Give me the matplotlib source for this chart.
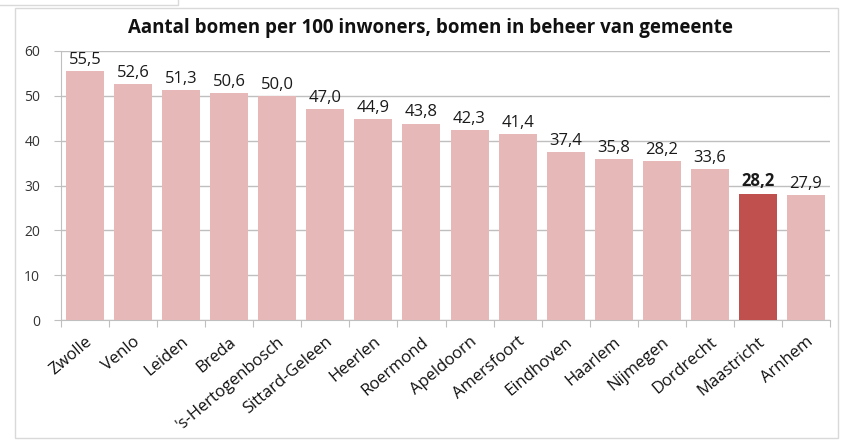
import matplotlib.pyplot as plt
from matplotlib.lines import Line2D
from matplotlib.patches import Rectangle

# data
gemeenten = ['Zwolle', 'Venlo', 'Leiden', 'Breda', "'s-Hertogenbosch", 'Sittard-Geleen',
             'Heerlen', 'Roermond', 'Apeldoorn', 'Amersfoort', 'Eindhoven', 'Haarlem',
             'Nijmegen', 'Dordrecht', 'Maastricht', 'Arnhem']
bomen = [55.5, 52.6, 51.3, 50.6, 50.0, 47.0, 44.9, 43.8, 42.3, 41.4, 37.4, 35.8,
         35.5, 33.6, 28.2, 27.9]
labels = ['55,5', '52,6', '51,3', '50,6', '50,0', '47,0', '44,9', '43,8', '42,3', '41,4',
          '37,4', '35,8', '28,2', '33,6', '28,2', '27,9']
highlight = 'Maastricht'
y_ticks = [0, 10, 20, 30, 40, 50, 60]

light = '#E6B9B8'
dark = '#C0504D'
grid_col = '#BFBFBF'
font = 'Open Sans'

fig = plt.figure(figsize=(8.42, 4.42), dpi=100)
ax = fig.add_axes([61 / 842, 1 - 320 / 442, (830 - 61) / 842, (320 - 51) / 442])

x = list(range(len(gemeenten)))
colors = [dark if g == highlight else light for g in gemeenten]
bars = ax.bar(x, bomen, width=0.79, color=colors, zorder=3)

for xi, v, lab, g in zip(x, bomen, labels, gemeenten):
    ax.text(xi, v + 0.7, lab, ha='center', va='bottom', fontsize=12, family=font,
            fontweight='bold' if g == highlight else 'normal', color='#1a1a1a', zorder=4)

ax.set_xlim(-0.5, len(gemeenten) - 0.5)
ax.set_ylim(0, 60)
ax.set_yticks(y_ticks)
ax.set_yticklabels([str(t) for t in y_ticks], family=font, fontsize=10, color='#333333')
ax.yaxis.grid(True, color=grid_col, linewidth=1.0, zorder=0)
ax.tick_params(axis='y', length=5, color=grid_col, pad=10)

# category tick marks sit between bars, labels at bar centres
ax.set_xticks([i - 0.5 for i in range(len(gemeenten) + 1)])
ax.set_xticklabels([])
ax.set_xticks(x, minor=True)
ax.set_xticklabels(gemeenten, minor=True, rotation=40, ha='right', rotation_mode='anchor',
                   family=font, fontsize=12, color='#111111')
ax.tick_params(axis='x', which='major', length=5, color=grid_col)
ax.tick_params(axis='x', which='minor', length=0, pad=10)

for s in ['top', 'right']:
    ax.spines[s].set_visible(False)
for s in ['left', 'bottom']:
    ax.spines[s].set_color(grid_col)

ax.set_title('Aantal bomen per 100 inwoners, bomen in beheer van gemeente',
             family=font, fontweight='bold', fontsize=13.5, pad=13, color='#111111',
             x=0.48)

# chart frame and the edge of the box behind it
fig.patches.append(Rectangle((15 / 842, 4 / 442), (838 - 15) / 842, (434 - 4) / 442,
                             transform=fig.transFigure, fill=False,
                             edgecolor='#D9D9D9', linewidth=1.0))
fig.lines.append(Line2D([0, 178 / 842, 178 / 842], [1 - 5 / 442, 1 - 5 / 442, 1],
                        transform=fig.transFigure, color='#D9D9D9', linewidth=1.0))

fig.savefig('out.png', dpi=100, facecolor='white')
